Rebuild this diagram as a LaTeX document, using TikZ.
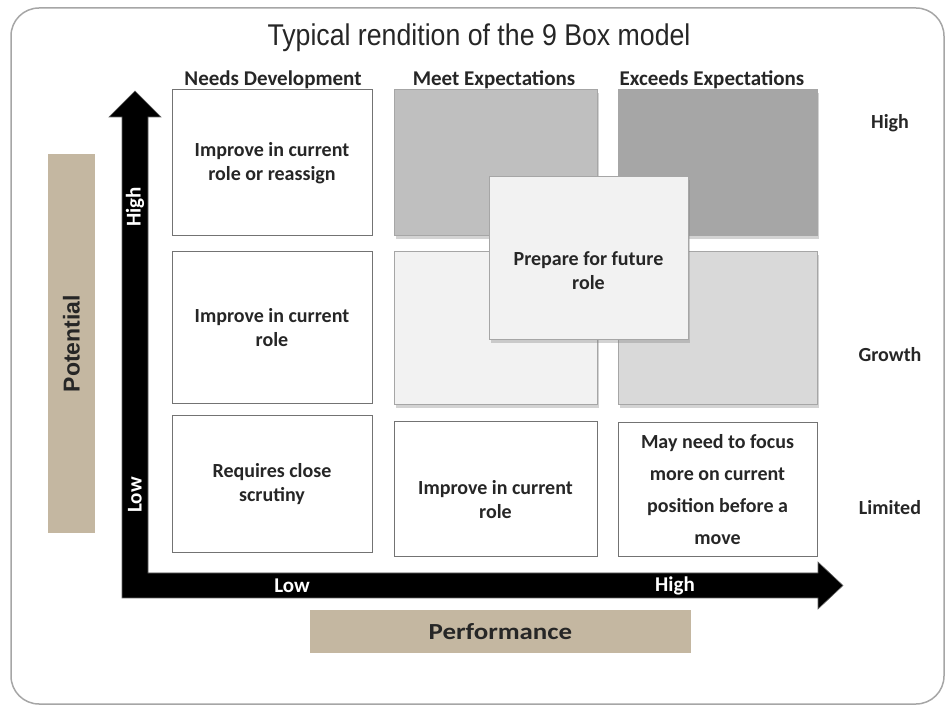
\documentclass[tikz,border=0pt]{standalone}
\usepackage{fontspec}
\setmainfont{Carlito}
\newfontfamily\titlefont[FakeStretch=0.89]{Liberation Sans}
\newfontfamily\arialfont{Liberation Sans}
\newfontfamily\widefont[FakeStretch=1.17]{Carlito}
\usetikzlibrary{shadows}
\definecolor{tan}{HTML}{C4B7A1}
\definecolor{txt}{HTML}{262626}
\definecolor{frame}{HTML}{A6A6A6}
\definecolor{gA}{HTML}{BFBFBF}
\definecolor{gB}{HTML}{A6A6A6}
\definecolor{gC}{HTML}{F2F2F2}
\definecolor{gD}{HTML}{D9D9D9}
\tikzset{
  cell/.style={draw=black!55, line width=1pt, fill=white, inner sep=0pt, text=txt,
    font=\bfseries\fontsize{20}{24}\selectfont, align=center},
  shcell/.style={cell, draw=black!35, drop shadow={opacity=0.35, shadow xshift=1.5pt, shadow yshift=-3pt}},
  hdr/.style={text=txt, font=\bfseries\fontsize{21}{24}\selectfont, inner sep=0pt},
  rowlab/.style={text=txt, font=\bfseries\fontsize{20}{24}\selectfont, inner sep=0pt},
  axlab/.style={text=white, font=\bfseries\fontsize{21}{24}\selectfont, inner sep=0pt},
  tanbox/.style={fill=tan, draw=none, inner sep=0pt},
}
\begin{document}
\begin{tikzpicture}[x=1pt,y=-1pt]
\useasboundingbox (0,0) rectangle (946,708);
% frame
\draw[frame, line width=1.5pt, rounded corners=28pt] (11,8) rectangle (944,704);
% title
\node[text=txt, font=\titlefont\fontsize{30}{34}\selectfont, inner sep=0pt] (title) at (479,38) {Typical rendition of the 9 Box model};
% column headers
\node[hdr] (h1) at (273,80) {Needs Development};
\node[hdr] (h2) at (494,80) {Meet Expectations};
\node[hdr] (h3) at (712,80) {Exceeds Expectations};
% axis arrows
\filldraw[fill=black, draw=black!60, line width=0.6pt]
  (122,598) -- (122,117) -- (109,117) -- (135,91) -- (161,117) -- (148,117)
  -- (148,573) -- (818,573) -- (818,562) -- (843,585.5) -- (818,609) -- (818,598) -- cycle;
\node[axlab, rotate=90] (vhigh) at (135,207) {High};
\node[axlab, rotate=90] (vlow) at (135,495) {Low};
\node[axlab] (hlow) at (292,586) {Low};
\node[axlab] (hhigh) at (675,586) {High};
% cells
\node[cell, minimum width=200pt, minimum height=146pt] (b11) at (272,163) {Improve in current\\role or reassign};
\node[shcell, fill=gA, minimum width=203pt, minimum height=146pt] (b12) at (495.5,163) {};
\node[shcell, fill=gB, minimum width=199pt, minimum height=146pt] (b13) at (717.5,163) {};
\node[cell, minimum width=200pt, minimum height=152pt] (b21) at (272,328) {Improve in current\\role};
\node[shcell, fill=gC, minimum width=203pt, minimum height=153pt] (b22) at (495.5,328.5) {};
\node[shcell, fill=gD, minimum width=199pt, minimum height=153pt] (b23) at (717.5,328.5) {};
\node[cell, minimum width=200pt, minimum height=137pt] (b31) at (272,484.5) {Requires close\\scrutiny};
\node[cell, minimum width=203pt, minimum height=135pt] (b32) at (495.5,489.5) {};
\node[cell, font=\bfseries\fontsize{20}{32}\selectfont, minimum width=199pt, minimum height=134pt] (b33) at (717.5,490) {May need to focus\\more on current\\position before a\\move};
\node[cell, text=txt, draw=none, fill=none] (t32) at (495.5,500) {Improve in current\\role};
% center overlay
\node[shcell, fill=gC, minimum width=199pt, minimum height=163pt] (ctr) at (588.5,258.5) {};
\node[cell, draw=none, fill=none] (tctr) at (588.5,271) {Prepare for future\\role};
% row labels
\node[rowlab] (rhigh) at (890,123) {High};
\node[rowlab] (rgrowth) at (890,355) {Growth};
\node[rowlab] (rlim) at (890,508) {Limited};
% axis titles
\node[tanbox, minimum width=47pt, minimum height=379pt] (pot) at (71.5,343.5) {};
\node[text=txt, font=\arialfont\bfseries\fontsize{23}{26}\selectfont, rotate=90, inner sep=0pt] (potlab) at (pot.center) {Potential};
\node[tanbox, minimum width=381pt, minimum height=43pt, text=txt, font=\widefont\bfseries\fontsize{23}{26}\selectfont] (perf) at (500.5,631.5) {Performance};
\end{tikzpicture}
\end{document}
